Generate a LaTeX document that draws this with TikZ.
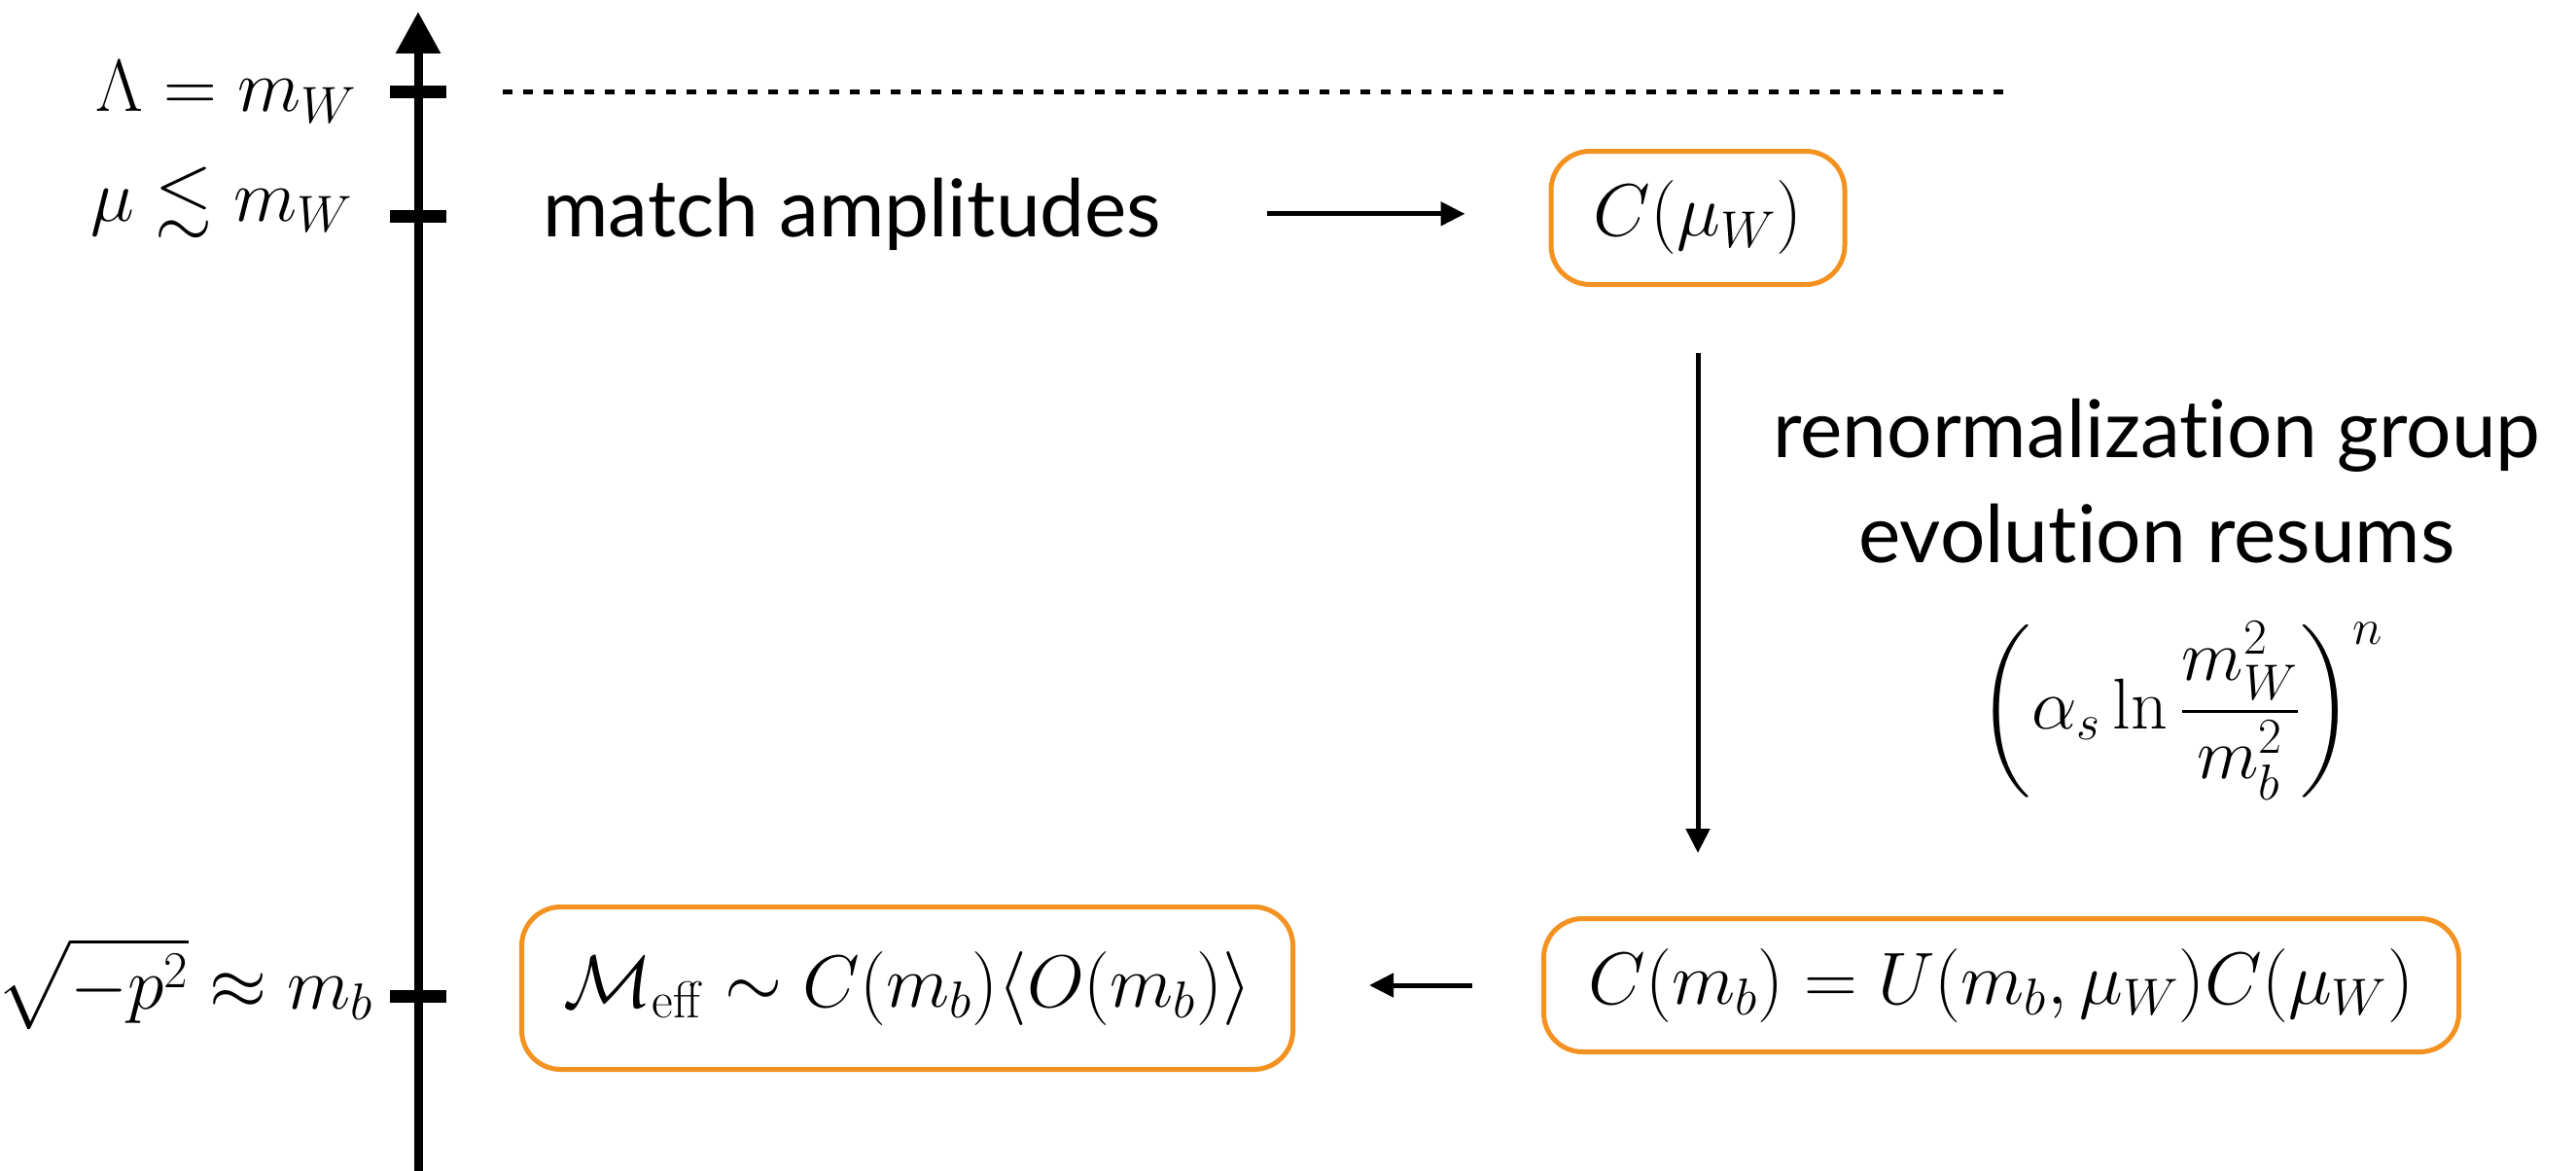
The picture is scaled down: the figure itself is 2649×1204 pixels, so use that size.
\documentclass[tikz,border=0pt]{standalone}
\usepackage{fix-cm}
\usepackage{amsmath,amssymb}
\usepackage[no-math]{fontspec}
\newfontfamily\lbl[Ligatures=NoCommon]{Lato}
\usetikzlibrary{arrows.meta}
\definecolor{boxorange}{RGB}{243,146,32}
\begin{document}
\begin{tikzpicture}[x=0.5pt,y=-0.5pt,
  mathtxt/.style={font=\fontsize{38}{46}\selectfont, inner sep=0pt},
  sanstxt/.style={font=\lbl\fontsize{41}{49}\selectfont, inner sep=0pt},
  obox/.style={draw=boxorange, line width=2.5pt, rounded corners=20pt, inner sep=0pt, font=\fontsize{38}{46}\selectfont},
  arr/.style={line width=2.5pt, -{Triangle[length=12.5pt,width=12pt]}},
  tickmark/.style={fill=black, rectangle, inner sep=0pt, minimum width=29pt, minimum height=6.5pt},
  dashedline/.style={line width=2.5pt, dash pattern=on 5pt off 5.5pt}
]
\useasboundingbox (0,0) rectangle (2649,1204);
% axis
\coordinate (axbot) at (430,1204);
\coordinate (axtop) at (430,12);
\draw[line width=4.5pt,-{Triangle[length=21.5pt,width=22pt]}] (axbot) -- (axtop);
\node[tickmark] (t1) at (430,95) {};
\node[tickmark] (t2) at (430,222) {};
\node[tickmark] (t3) at (430,1024) {};
\node[mathtxt, anchor=base east] (l1) at (367,115) {$\Lambda = m_W$};
\node[mathtxt, anchor=base east] (l2) at (363,227) {$\mu \lesssim m_W$};
\node[mathtxt, anchor=base east] (l3) at (384,1037) {$\sqrt{-p^2} \approx m_b$};
% dashed line
\coordinate (d1) at (517,95);
\coordinate (d2) at (2063,95);
\draw[dashedline] (d1) -- (d2);
% nodes
\node[sanstxt, anchor=base west] (match) at (558,243) {match amplitudes};
\node[obox, minimum width=151pt, minimum height=68.5pt] (cw) at (1746,224) {$C(\mu_W)$};
\node[obox, minimum width=470.5pt, minimum height=68.5pt] (rb) at (2058,1013) {$C(m_b) = U(m_b,\mu_W)C(\mu_W)$};
\node[obox, minimum width=396.5pt, minimum height=83.5pt] (lb) at (933,1016) {$\mathcal{M}_{\mathrm{eff}} \sim C(m_b)\langle O(m_b)\rangle$};
\node[sanstxt, anchor=base] (rg1) at (2218,470) {renormalization group};
\node[sanstxt, anchor=base] (rg2) at (2218,578) {evolution resums};
\node[mathtxt, font=\fontsize{37}{45}\selectfont] (rg3) at (2243,731) {$\displaystyle \biggl(\alpha_s \ln \frac{m_W^2}{m_b^2}\biggr)^{n}$};
% arrows
\draw[arr, shorten <=54pt, shorten >=43pt] (match.east) -- (match.east -| cw.west);
\draw[arr, shorten <=34pt, shorten >=32.5pt] (cw.south) -- (cw.south |- rb.north);
\draw[arr, shorten <=35.5pt, shorten >=38pt] (rb.west) -- (rb.west -| lb.east);
\end{tikzpicture}
\end{document}
